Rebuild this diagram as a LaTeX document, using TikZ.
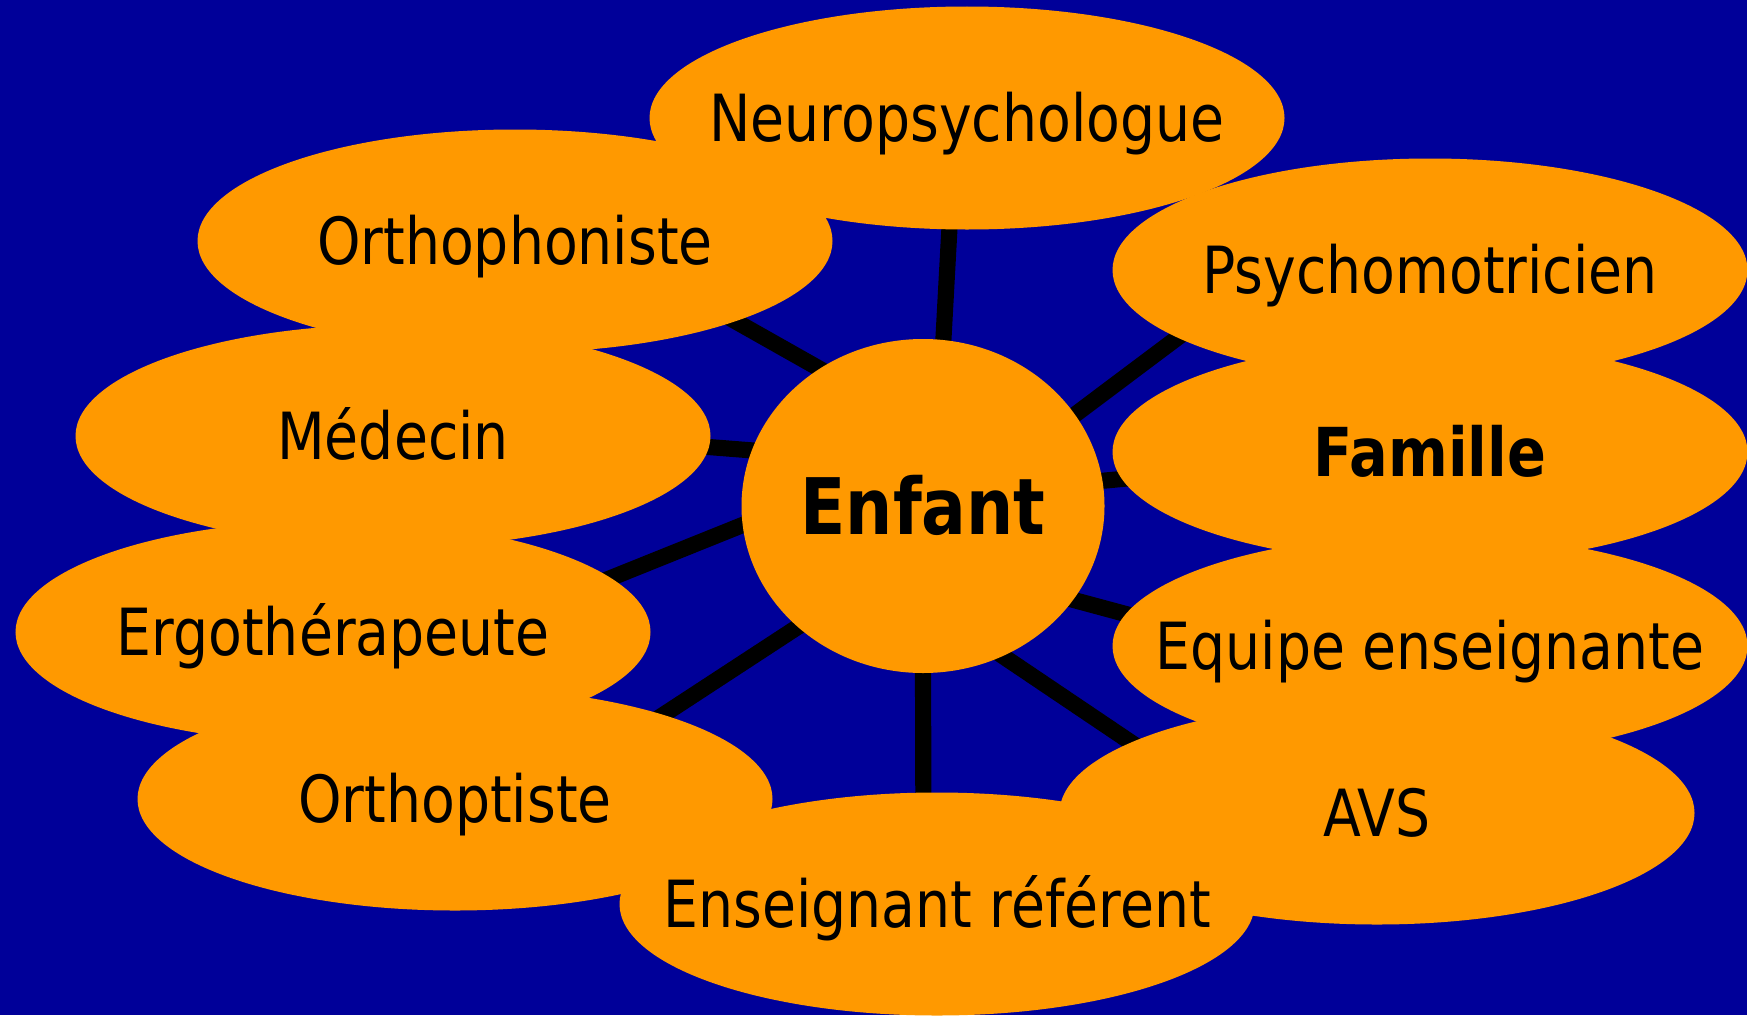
\documentclass[tikz,border=0pt]{standalone}
\usepackage{fontspec}
\setmainfont{DejaVu Sans}[FakeStretch=0.85]
\usetikzlibrary{shapes.geometric}
\definecolor{deepblue}{HTML}{000099}
\definecolor{mango}{HTML}{FF9900}
\pgfdeclarelayer{backdrop}
\pgfdeclarelayer{links}
\pgfsetlayers{backdrop,links,main}

\begin{document}
\begin{tikzpicture}[
  bubble/.style={ellipse, fill=mango, inner sep=0pt, outer sep=0pt, minimum width=6.35cm, minimum height=2.23cm},
  tag/.style={font=\fontsize{18.5}{22}\selectfont, text height=13.5pt, text depth=0pt, inner sep=0pt},
  link/.style={line width=4.6pt, shorten <=-4pt, shorten >=-4pt},
]
\useasboundingbox (0,0) rectangle (17.47,10.15);
\begin{pgfonlayer}{backdrop}
  \fill[deepblue] (0,0) rectangle (17.47,10.15);
\end{pgfonlayer}

% the child in the middle
\node[bubble, minimum width=3.63cm, minimum height=3.34cm,
  label={[tag, font=\fontsize{22.2}{26}\selectfont\bfseries, text height=16.2pt]center:Enfant}] (enfant) at (9.23,5.09) {};

% everybody around
\node[bubble, label={[tag]center:Neuropsychologue}] (neuro) at (9.67,8.97) {};
\node[bubble, label={[tag]center:Orthophoniste}] (ortho) at (5.15,7.74) {};
\node[bubble, label={[tag]center:Psychomotricien}] (psycho) at (14.30,7.45) {};
\node[bubble, label={[tag]center:Médecin}] (medecin) at (3.93,5.79) {};
\node[bubble, label={[tag, font=\fontsize{19.2}{22}\selectfont\bfseries, text height=14pt]center:Famille}] (famille) at (14.30,5.63) {};
\node[bubble, label={[tag]center:Ergothérapeute}] (ergo) at (3.33,3.83) {};
\node[bubble, label={[tag]center:Equipe enseignante}] (equipe) at (14.30,3.69) {};
\node[bubble, label={[tag]center:Orthoptiste}] (orthoptiste) at (4.55,2.16) {};
\node[bubble, label={[tag]center:AVS}] (avs) at (13.77,2.02) {};
\node[bubble, label={[tag]center:Enseignant référent}] (referent) at (9.37,1.11) {};

% spokes, behind the bubbles
\begin{pgfonlayer}{links}
  \foreach \a/\n/\b in {83/neuro/261, 127/ortho/-20, 162/medecin/-2, 186/ergo/11,
      224/orthoptiste/22, 270/referent/97, -62/avs/164, -32/equipe/174,
      8/famille/185, 31/psycho/195}
    \draw[link] (enfant.\a) -- (\n.\b);
\end{pgfonlayer}

\end{tikzpicture}
\end{document}
